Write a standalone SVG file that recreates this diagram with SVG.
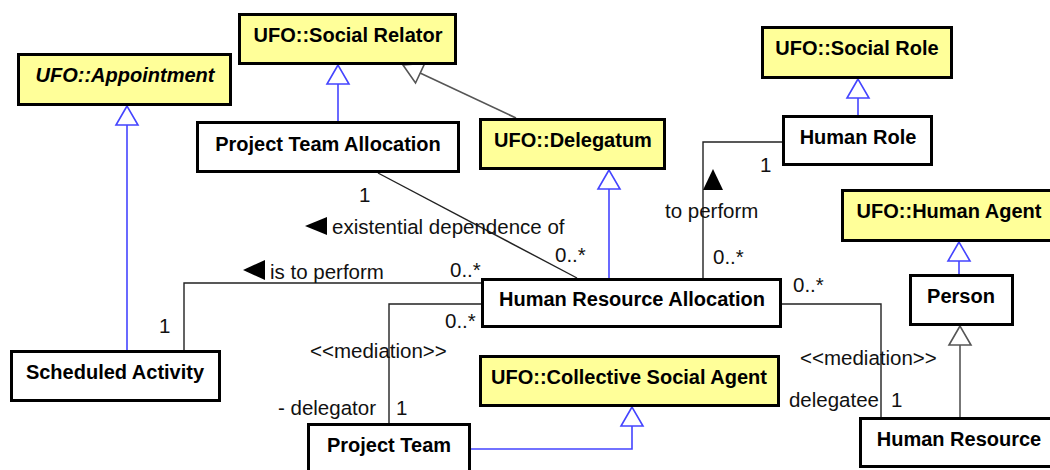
<svg xmlns="http://www.w3.org/2000/svg" width="1050" height="470" viewBox="0 0 1050 470">
  <style>
    .box rect { fill: #ffffff; stroke: #000000; stroke-width: 3; }
    .ufo rect { fill: #ffff99; }
    .name { font-family: "Liberation Sans", Arial, sans-serif; font-size: 20px; font-weight: bold; fill: #000000; text-anchor: middle; }
    .abstract { font-style: italic; }
    .lbl { font-family: "Liberation Sans", Arial, sans-serif; font-size: 20.5px; fill: #111111; }
    .end { text-anchor: end; }
    .gen-blue { fill: none; stroke: #4444ff; stroke-width: 1.6; marker-end: url(#tri-blue); }
    .gen-gray { fill: none; stroke: #555555; stroke-width: 1.6; marker-end: url(#tri-gray); }
    .assoc { fill: none; stroke: #222222; stroke-width: 1.4; }
    .dir { fill: #000000; }
  </style>
  <defs>
    <!-- hollow triangle heads for generalization -->
    <marker id="tri-blue" markerUnits="userSpaceOnUse" viewBox="0 0 20 24" refX="19" refY="12" markerWidth="20" markerHeight="24" orient="auto" overflow="visible">
      <path d="M19,12 L0,1 L0,23 Z" fill="#ffffff" stroke="#4444ff" stroke-width="1.6"/>
    </marker>
    <marker id="tri-gray" markerUnits="userSpaceOnUse" viewBox="0 0 20 24" refX="19" refY="12" markerWidth="20" markerHeight="24" orient="auto" overflow="visible">
      <path d="M19,12 L0,1 L0,23 Z" fill="#ffffff" stroke="#555555" stroke-width="1.6"/>
    </marker>
  </defs>

  <rect width="1050" height="470" fill="#ffffff"/>

  <!-- connectors -->
  <g id="connectors">
    <!-- generalizations -->
    <path class="gen-blue" d="M127,350 L127,106"/>
    <path class="gen-blue" d="M338,121 L338,65"/>
    <path class="gen-gray" d="M516,118 L403,65"/>
    <path class="gen-blue" d="M609,278 L609,170"/>
    <path class="gen-blue" d="M858,115 L858,79"/>
    <path class="gen-blue" d="M959,274 L959,242"/>
    <path class="gen-gray" d="M960,417 L960,326"/>
    <path class="gen-blue" d="M471,449 L632,449 L632,407"/>

    <!-- associations -->
    <path class="assoc" d="M378,173 L577,278"/>
    <path class="assoc" d="M184,350 L184,283 L481,283"/>
    <path class="assoc" d="M481,304 L389,304 L389,423"/>
    <path class="assoc" d="M782,304 L881,304 L881,417"/>
    <path class="assoc" d="M703,278 L703,142 L782,142"/>

    <!-- reading-direction triangles -->
    <polygon class="dir" points="305,226 327,217 327,235"/>
    <polygon class="dir" points="243,270 265,260 265,280"/>
    <polygon class="dir" points="713,169 703,190 723,190"/>

    <!-- association labels and multiplicities -->
    <text class="lbl" x="359" y="202">1</text>
    <text class="lbl" x="555" y="262">0..*</text>
    <text class="lbl" x="332" y="234">existential dependence of</text>

    <text class="lbl" x="270" y="279">is to perform</text>
    <text class="lbl" x="450" y="277">0..*</text>
    <text class="lbl" x="159" y="333">1</text>

    <text class="lbl" x="445" y="328">0..*</text>
    <text class="lbl" x="310" y="358">&lt;&lt;mediation&gt;&gt;</text>
    <text class="lbl end" x="376" y="415">- delegator</text>
    <text class="lbl" x="396" y="415">1</text>

    <text class="lbl" x="793" y="292">0..*</text>
    <text class="lbl" x="800" y="365">&lt;&lt;mediation&gt;&gt;</text>
    <text class="lbl end" x="879" y="407">delegatee</text>
    <text class="lbl" x="891" y="407">1</text>

    <text class="lbl" x="760" y="172">1</text>
    <text class="lbl" x="665" y="218">to perform</text>
    <text class="lbl" x="713" y="264">0..*</text>
  </g>

  <!-- classes -->
  <g id="ufo-appointment" class="box ufo">
    <rect x="18.5" y="54.5" width="212" height="50"/>
    <text class="name abstract" x="125" y="82">UFO::Appointment</text>
  </g>
  <g id="ufo-social-relator" class="box ufo">
    <rect x="239.5" y="14.5" width="216" height="49"/>
    <text class="name" x="348" y="42">UFO::Social Relator</text>
  </g>
  <g id="project-team-allocation" class="box">
    <rect x="197.5" y="122.5" width="261" height="49"/>
    <text class="name" x="328" y="151">Project Team Allocation</text>
  </g>
  <g id="ufo-delegatum" class="box ufo">
    <rect x="480.5" y="119.5" width="184" height="49"/>
    <text class="name" x="573" y="147">UFO::Delegatum</text>
  </g>
  <g id="ufo-social-role" class="box ufo">
    <rect x="762.5" y="27.5" width="189" height="50"/>
    <text class="name" x="857" y="55">UFO::Social Role</text>
  </g>
  <g id="human-role" class="box">
    <rect x="783.5" y="116.5" width="148" height="48"/>
    <text class="name" x="858" y="144">Human Role</text>
  </g>
  <g id="ufo-human-agent" class="box ufo">
    <rect x="842.5" y="190.5" width="213" height="50"/>
    <text class="name" x="949" y="218">UFO::Human Agent</text>
  </g>
  <g id="person" class="box">
    <rect x="910.5" y="275.5" width="102" height="49"/>
    <text class="name" x="961" y="303">Person</text>
  </g>
  <g id="human-resource-allocation" class="box">
    <rect x="482.5" y="279.5" width="298" height="47"/>
    <text class="name" x="632" y="306">Human Resource Allocation</text>
  </g>
  <g id="ufo-collective-social-agent" class="box ufo">
    <rect x="480.5" y="356.5" width="298" height="49"/>
    <text class="name" x="629" y="384">UFO::Collective Social Agent</text>
  </g>
  <g id="scheduled-activity" class="box">
    <rect x="11.5" y="351.5" width="208" height="49"/>
    <text class="name" x="115" y="379">Scheduled Activity</text>
  </g>
  <g id="project-team" class="box">
    <rect x="308.5" y="424.5" width="161" height="50"/>
    <text class="name" x="389" y="452">Project Team</text>
  </g>
  <g id="human-resource" class="box">
    <rect x="860.5" y="418.5" width="200" height="48"/>
    <text class="name" x="959" y="446">Human Resource</text>
  </g>
</svg>
